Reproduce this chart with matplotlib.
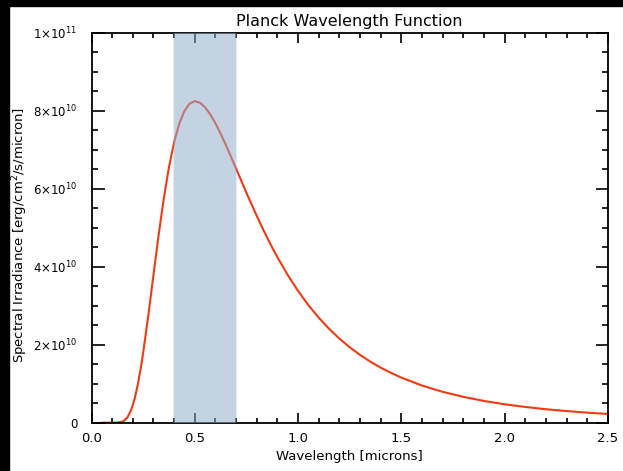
#!/usr/bin/env python3
"""Planck wavelength function with the visible band shaded."""
import matplotlib
matplotlib.use("Agg")
import matplotlib.pyplot as plt
from matplotlib.patches import Rectangle
from matplotlib.ticker import MultipleLocator, FixedLocator

# values (irradiance in units of 1e10 erg/cm^2/s/micron)
WAVELENGTH = [0.05, 0.10, 0.12, 0.15, 0.16, 0.175, 0.19, 0.20, 0.21, 0.225,
              0.24, 0.25, 0.275, 0.30, 0.325, 0.35, 0.375, 0.40, 0.425, 0.45,
              0.475, 0.50, 0.525, 0.55, 0.575, 0.60, 0.625, 0.65, 0.675, 0.70,
              0.725, 0.75, 0.775, 0.80, 0.825, 0.85, 0.875, 0.90, 0.95, 1.0,
              1.05, 1.1, 1.15, 1.2, 1.25, 1.3, 1.35, 1.4, 1.45, 1.5,
              1.6, 1.7, 1.8, 1.9, 2.0, 2.1, 2.2, 2.3, 2.4, 2.5]
IRRADIANCE = [0.0, 0.0, 0.0014, 0.030, 0.061, 0.148, 0.302, 0.450, 0.639, 0.999,
              1.447, 1.788, 2.749, 3.79, 4.812, 5.75, 6.550, 7.19, 7.670, 7.99,
              8.178, 8.24, 8.201, 8.08, 7.901, 7.67, 7.407, 7.12, 6.819, 6.51,
              6.201, 5.89, 5.592, 5.30, 5.016, 4.745, 4.486, 4.24, 3.783, 3.376,
              3.011, 2.69, 2.406, 2.155, 1.933, 1.737, 1.564, 1.411, 1.276, 1.155,
              0.952, 0.791, 0.662, 0.557, 0.472, 0.403, 0.345, 0.2975, 0.2577, 0.224]
VISIBLE = (0.4, 0.7)
XTICKS = [0.0, 0.5, 1.0, 1.5, 2.0, 2.5]
XTICKLABELS = ["0.0", "0.5", "1.0", "1.5", "2.0", "2.5"]
YTICKS = [0, 2e10, 4e10, 6e10, 8e10, 1e11]
YTICKLABELS = ["0", r"2$\times$10$^{10}$", r"4$\times$10$^{10}$", r"6$\times$10$^{10}$",
               r"8$\times$10$^{10}$", r"1$\times$10$^{11}$"]

fig = plt.figure(figsize=(6.23, 4.71), dpi=100)
# black frame strips along top and left edge
fig.patches.append(Rectangle((0, 0), 8.5 / 623, 1, transform=fig.transFigure,
                             color="black", zorder=0))
fig.patches.append(Rectangle((0, 1 - 6 / 471), 1, 6 / 471, transform=fig.transFigure,
                             color="black", zorder=0))

ax = fig.add_axes([91.5 / 623, 48.3 / 471, (608 - 91.5) / 623, (422.7 - 32.5) / 471])
y = [v * 1e10 for v in IRRADIANCE]
ax.plot(WAVELENGTH, y, color="#f03a14", linewidth=1.5, zorder=2)

# shaded visible band with slightly soft edges
ax.axvspan(VISIBLE[0], VISIBLE[1], color="#91acca", alpha=0.53, lw=0, zorder=3)
for d, a in [(0.004, 0.12), (0.008, 0.06)]:
    ax.axvspan(VISIBLE[0] - d, VISIBLE[0], color="#91acca", alpha=a, lw=0, zorder=3)
    ax.axvspan(VISIBLE[1], VISIBLE[1] + d, color="#91acca", alpha=a, lw=0, zorder=3)

ax.set_xlim(0, 2.5)
ax.set_ylim(0, 1e11)
ax.xaxis.set_major_locator(FixedLocator(XTICKS))
ax.xaxis.set_minor_locator(MultipleLocator(0.1))
ax.yaxis.set_major_locator(FixedLocator(YTICKS))
ax.yaxis.set_minor_locator(MultipleLocator(0.5e10))
ax.set_xticklabels(XTICKLABELS)
ax.set_yticklabels(YTICKLABELS)

ax.tick_params(axis="both", which="both", direction="in", top=True, right=True,
               colors="black", width=1.2)
ax.tick_params(axis="x", which="major", length=7, pad=7, labelsize=9.5)
ax.tick_params(axis="x", which="minor", length=3.5)
ax.tick_params(axis="y", which="major", length=9, pad=10, labelsize=8.5)
ax.tick_params(axis="y", which="minor", length=4.5)
for s in ax.spines.values():
    s.set_linewidth(1.3)

ax.set_title("Planck Wavelength Function", fontsize=11.5, pad=5)
ax.set_xlabel("Wavelength [microns]", fontsize=9.5, labelpad=3)
ax.set_ylabel(r"Spectral Irradiance [erg/cm$^2$/s/micron]", fontsize=9.5)
ax.yaxis.set_label_coords(-0.12, 0.48)

fig.savefig("out.png", dpi=100)
